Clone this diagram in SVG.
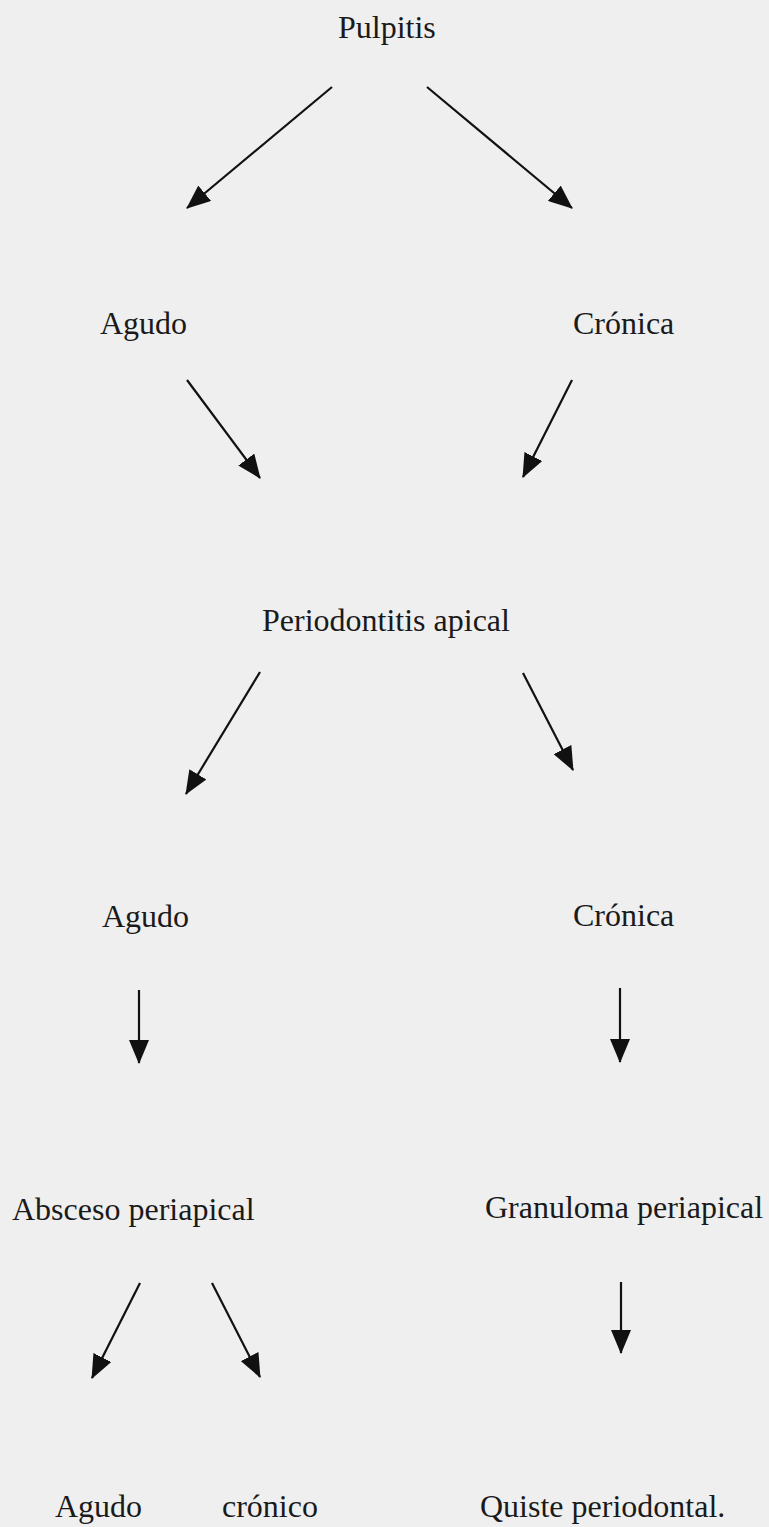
<svg xmlns="http://www.w3.org/2000/svg" width="769" height="1527" viewBox="0 0 769 1527">
<style>
.lbl{font-family:"Liberation Serif","Times New Roman",serif;font-size:32px;fill:#1a1a1a}
.arr{stroke:#111;stroke-width:2.2;fill:none;marker-end:url(#ah)}
</style>
<defs>
<marker id="ah" markerUnits="userSpaceOnUse" markerWidth="24" markerHeight="20" refX="23" refY="10" orient="auto">
<path d="M0,0 L24,10 L0,20 Z" fill="#111"/>
</marker>
</defs>
<rect width="769" height="1527" fill="#efefef"/>
<g id="connectors">
<line class="arr" x1="332" y1="87" x2="187" y2="208"/>
<line class="arr" x1="427" y1="87" x2="572" y2="208"/>
<line class="arr" x1="187" y1="380" x2="260" y2="478"/>
<line class="arr" x1="572" y1="380" x2="523" y2="477"/>
<line class="arr" x1="260" y1="672" x2="186" y2="794"/>
<line class="arr" x1="523" y1="673" x2="573" y2="770"/>
<line class="arr" x1="139" y1="990" x2="139" y2="1063"/>
<line class="arr" x1="620" y1="988" x2="620" y2="1062"/>
<line class="arr" x1="140" y1="1283" x2="92" y2="1378"/>
<line class="arr" x1="212" y1="1283" x2="260" y2="1377"/>
<line class="arr" x1="621" y1="1282" x2="621" y2="1353"/>
</g>
<g id="n-pulpitis"><text class="lbl" x="338" y="38">Pulpitis</text></g>
<g id="n-agudo1"><text class="lbl" x="100" y="334">Agudo</text></g>
<g id="n-cronica1"><text class="lbl" x="573" y="334">Crónica</text></g>
<g id="n-periodontitis"><text class="lbl" x="262" y="631">Periodontitis apical</text></g>
<g id="n-agudo2"><text class="lbl" x="102" y="927">Agudo</text></g>
<g id="n-cronica2"><text class="lbl" x="573" y="926">Crónica</text></g>
<g id="n-absceso"><text class="lbl" x="12" y="1220">Absceso periapical</text></g>
<g id="n-granuloma"><text class="lbl" x="485" y="1218">Granuloma periapical</text></g>
<g id="n-agudo3"><text class="lbl" x="55" y="1517">Agudo</text></g>
<g id="n-cronico3"><text class="lbl" x="222" y="1517">crónico</text></g>
<g id="n-quiste"><text class="lbl" x="480" y="1517">Quiste periodontal.</text></g>
</svg>
